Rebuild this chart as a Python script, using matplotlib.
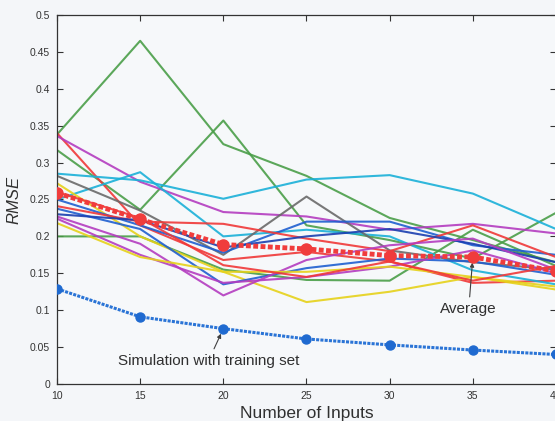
import numpy as np
import matplotlib.pyplot as plt

plt.rcParams['font.family'] = ['Liberation Sans', 'DejaVu Sans']

n_inputs = [10, 15, 20, 25, 30, 35, 40]

# RMSE of each individual test run
runs = [
    ('#4a9e48', [0.338, 0.465, 0.325, 0.282, 0.225, 0.195, 0.165]),
    ('#4a9e48', [0.317, 0.236, 0.357, 0.215, 0.195, 0.170, 0.232]),
    ('#4a9e48', [0.200, 0.200, 0.155, 0.141, 0.140, 0.209, 0.160]),
    ('#f03838', [0.340, 0.215, 0.168, 0.179, 0.166, 0.137, 0.140]),
    ('#b43cc0', [0.336, 0.274, 0.233, 0.227, 0.209, 0.217, 0.204]),
    ('#1ab0d8', [0.285, 0.276, 0.251, 0.277, 0.283, 0.258, 0.210]),
    ('#1ab0d8', [0.250, 0.287, 0.200, 0.209, 0.200, 0.154, 0.135]),
    ('#6a6a6a', [0.282, 0.235, 0.175, 0.254, 0.181, 0.165, 0.155]),
    ('#e6d21a', [0.272, 0.200, 0.152, 0.111, 0.125, 0.145, 0.132]),
    ('#1f5fd0', [0.250, 0.215, 0.178, 0.220, 0.220, 0.188, 0.175]),
    ('#f03838', [0.241, 0.220, 0.217, 0.197, 0.180, 0.215, 0.172]),
    ('#1f5fd0', [0.2375, 0.210, 0.135, 0.157, 0.170, 0.166, 0.148]),
    ('#1a3fb0', [0.230, 0.222, 0.185, 0.200, 0.210, 0.190, 0.165]),
    ('#b43cc0', [0.227, 0.190, 0.120, 0.168, 0.188, 0.197, 0.155]),
    ('#b43cc0', [0.224, 0.175, 0.137, 0.145, 0.159, 0.181, 0.150]),
    ('#e6d21a', [0.218, 0.172, 0.152, 0.152, 0.159, 0.145, 0.128]),
    ('#f03838', [0.260, 0.225, 0.161, 0.145, 0.166, 0.140, 0.160]),
]

average = [0.259, 0.223, 0.189, 0.183, 0.174, 0.172, 0.153]
training = [0.129, 0.091, 0.075, 0.061, 0.053, 0.046, 0.040]

fig = plt.figure(figsize=(5.55, 4.21), dpi=100, facecolor='#f4f6f9')
ax = fig.add_axes([0.1027, 0.0879, 0.8991, 0.8765])
ax.set_facecolor('#f6f8fa')

for color, vals in runs:
    ax.plot(n_inputs, vals, color=color, lw=1.5, alpha=0.9)

ax.plot(n_inputs, average, color='#f03c3c', lw=3.5, ls=(0, (1.0, 0.5)),
        marker='o', ms=8, mfc='#f03c3c', mec='#f03c3c', zorder=5)
ax.plot(n_inputs, training, color='#2a74d6', lw=2.2, ls=(0, (1.0, 0.4)),
        marker='o', ms=6.5, mfc='#1f6ad0', mec='#1f6ad0', zorder=5)

arrow = dict(arrowstyle='-|>', color='#404040', lw=0.8, mutation_scale=6,
             shrinkA=2, shrinkB=4)
ax.annotate('Average', xy=(35, average[5]), xytext=(34.75, 0.101),
            ha='center', va='center', fontsize=11, color='#303030',
            arrowprops=arrow)
ax.annotate('Simulation with training set', xy=(20, training[2]),
            xytext=(19.1, 0.031), ha='center', va='center', fontsize=11,
            color='#303030', arrowprops=arrow)

ax.set_xlim(10, 40)
ax.set_ylim(0, 0.5)
ax.set_xticks(n_inputs)
ax.set_yticks(np.arange(0, 0.51, 0.05))
ax.set_yticklabels(['0', '0.05', '0.1', '0.15', '0.2', '0.25', '0.3',
                    '0.35', '0.4', '0.45', '0.5'])
ax.tick_params(direction='in', top=True, right=True, length=4, width=0.8,
               labelsize=7.5, colors='#333333', pad=5)
for s in ax.spines.values():
    s.set_color('#333333')
    s.set_linewidth(0.9)

ax.set_xlabel('Number of Inputs', fontsize=12.5, color='#303030', labelpad=4)
ax.set_ylabel('RMSE', fontsize=12, style='italic', color='#303030', labelpad=6)

fig.savefig('out.png', dpi=100, facecolor=fig.get_facecolor())
